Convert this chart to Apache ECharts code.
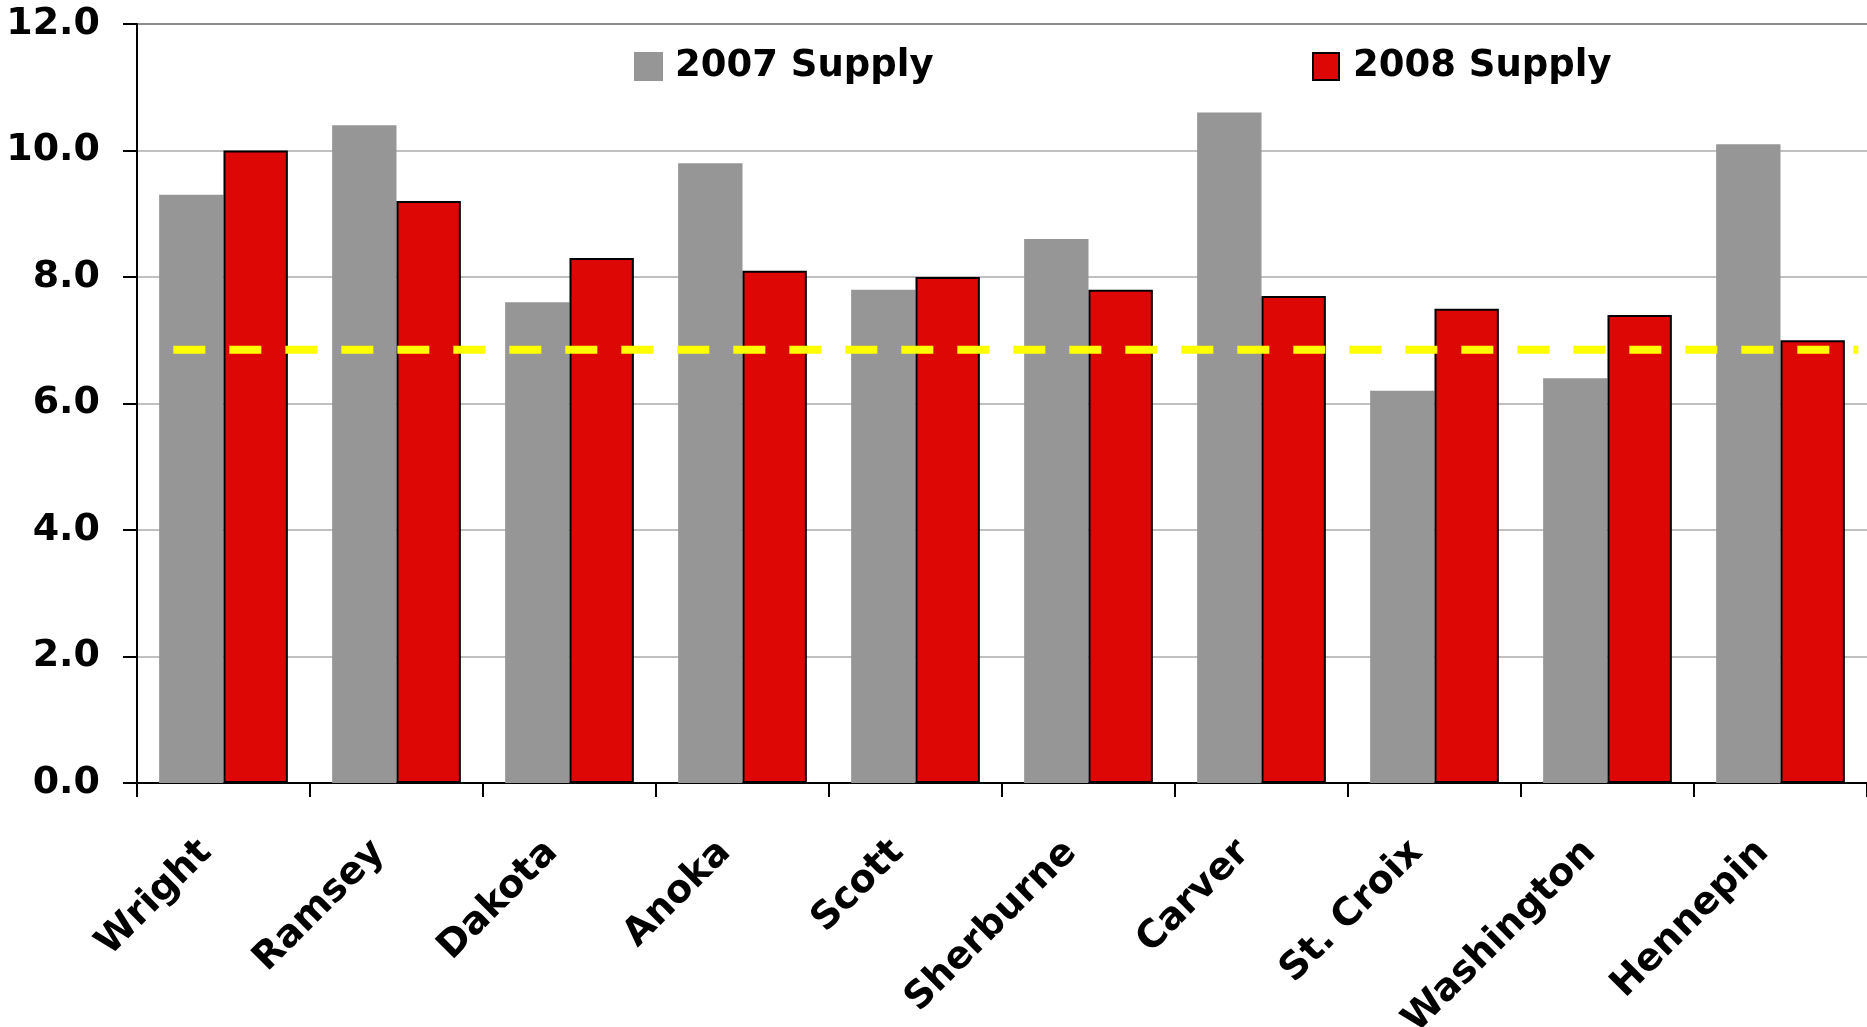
<!DOCTYPE html>
<html>
<head>
<meta charset="utf-8">
<title>Supply by County, 2007 vs 2008</title>
<script src="https://cdn.jsdelivr.net/npm/echarts@6/dist/echarts.min.js"></script>
<style>
  html, body { margin: 0; padding: 0; background: #ffffff; }
  #chart { width: 1867px; height: 1027px; }
</style>
</head>
<body>
<div id="chart"></div>
<script>
// Counties along the category axis
const counties = ['Wright', 'Ramsey', 'Dakota', 'Anoka', 'Scott', 'Sherburne', 'Carver', 'St. Croix', 'Washington', 'Hennepin'];

// Supply values per county
const supply2007 = [9.3, 10.4, 7.6, 9.8, 7.8, 8.6, 10.6, 6.2, 6.4, 10.1];
const supply2008 = [10.0, 9.2, 8.3, 8.1, 8.0, 7.8, 7.7, 7.5, 7.4, 7.0];

// Reference level drawn as a dashed line, with its extent in category units
const referenceLevel = 6.85;
const referenceSpan = [0.21, 9.95];

// Value-axis ticks
const yTicks = [0, 2, 4, 6, 8, 10, 12];

const FONT = 'DejaVu Sans';

const chart = echarts.init(document.getElementById('chart'), null, { renderer: 'canvas' });

chart.setOption({
  backgroundColor: '#ffffff',
  animation: false,
  grid: { left: 137, right: 0, top: 24, bottom: 244, containLabel: false, outerBoundsMode: 'none' },
  legend: [
    {
      left: 634, top: 48, padding: 0,
      data: ['2007 Supply'],
      itemWidth: 29, itemHeight: 29,
      icon: 'rect',
      textStyle: { fontFamily: FONT, fontWeight: 'bold', fontSize: 37, color: '#000', padding: [0, 0, 0, 7] }
    },
    {
      left: 1312, top: 48, padding: 0,
      data: ['2008 Supply'],
      itemWidth: 26, itemHeight: 27,
      icon: 'rect',
      textStyle: { fontFamily: FONT, fontWeight: 'bold', fontSize: 37, color: '#000', padding: [0, 0, 0, 9] }
    }
  ],
  xAxis: [
    {
      type: 'category',
      data: counties,
      boundaryGap: true,
      axisLine: { show: true, lineStyle: { color: '#000', width: 2 } },
      axisTick: { show: true, length: 14, lineStyle: { color: '#000', width: 2 } },
      axisLabel: {
        rotate: 45,
        margin: 46,
        padding: [0, 25, 0, 0],
        fontFamily: FONT, fontWeight: 'bold', fontSize: 38, color: '#000'
      },
      splitLine: { show: false }
    },
    {
      // hidden linear axis sharing the category extent, used for the reference line
      type: 'value',
      min: 0, max: counties.length,
      show: false
    }
  ],
  yAxis: {
    type: 'value',
    min: yTicks[0],
    max: yTicks[yTicks.length - 1],
    interval: 2,
    axisLine: { show: true, lineStyle: { color: '#000', width: 2 } },
    axisTick: { show: true, length: 14, lineStyle: { color: '#000', width: 2 } },
    axisLabel: {
      margin: 37,
      fontFamily: FONT, fontWeight: 'bold', fontSize: 38, color: '#000',
      formatter: v => v.toFixed(1)
    },
    splitLine: {
      show: true,
      lineStyle: { color: ['#c0c0c0', '#c0c0c0', '#c0c0c0', '#c0c0c0', '#c0c0c0', '#c0c0c0', '#8c8c8c'], width: 2 }
    }
  },
  series: [
    {
      name: '2007 Supply',
      type: 'bar',
      data: supply2007,
      barGap: '0%',
      barCategoryGap: '25.6%',
      itemStyle: { color: '#969696', borderWidth: 0 },
      z: 2
    },
    {
      name: '2008 Supply',
      type: 'bar',
      data: supply2008,
      barGap: '0%',
      barCategoryGap: '25.6%',
      itemStyle: { color: '#dd0806', borderColor: '#000', borderWidth: 2 },
      z: 2
    },
    {
      name: 'Reference',
      type: 'line',
      xAxisIndex: 1,
      data: referenceSpan.map(x => [x, referenceLevel]),
      symbol: 'none',
      silent: true,
      lineStyle: { color: '#ffff00', width: 8, type: [32, 24], cap: 'butt' },
      z: 5
    }
  ]
});
</script>
</body>
</html>
